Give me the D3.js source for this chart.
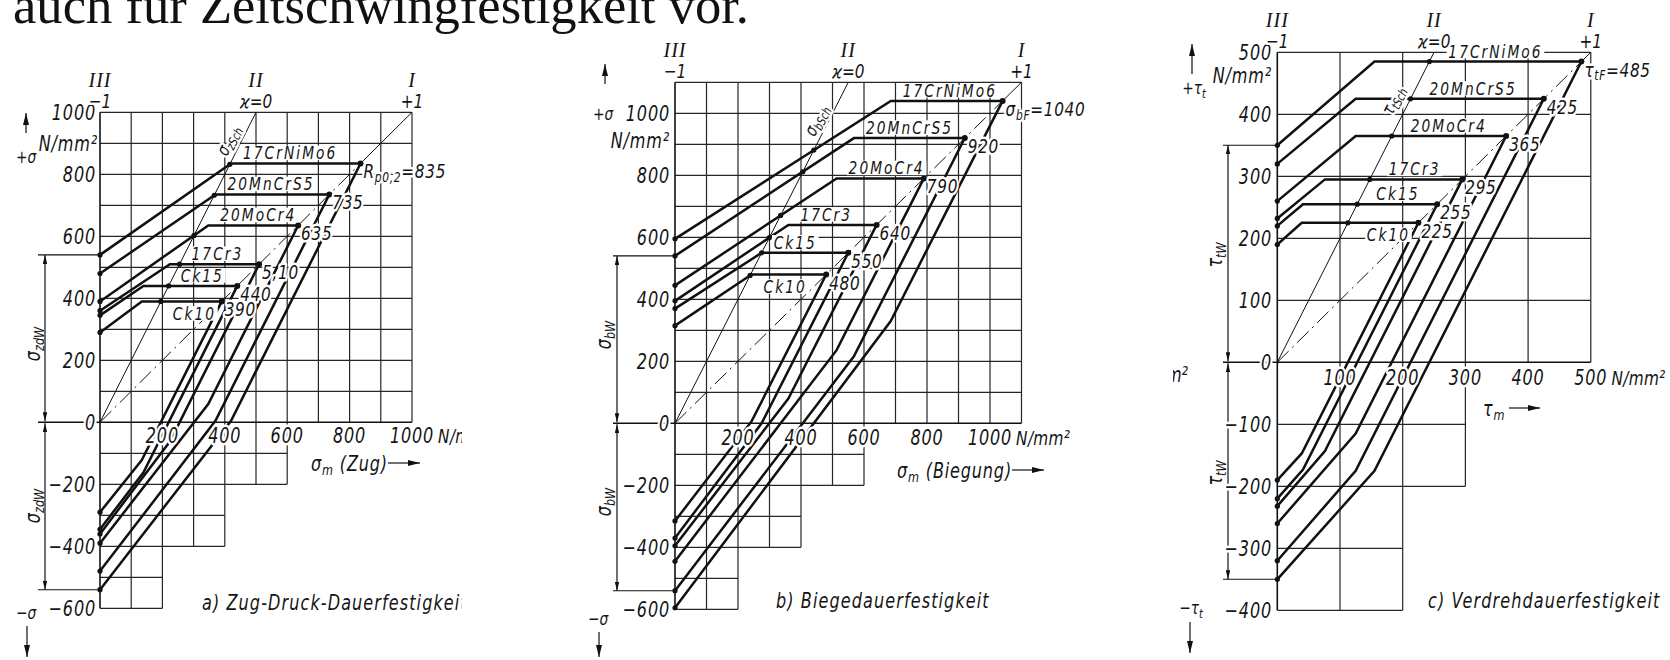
<!DOCTYPE html>
<html>
<head>
<meta charset="utf-8">
<script src="https://cdn.jsdelivr.net/npm/d3@7"></script>
<style>
  html, body { margin: 0; padding: 0; background: #fff; }
  svg { display: block; }
  .lt { font-family: "Liberation Sans Narrow", "DejaVu Sans Condensed", "Liberation Sans", sans-serif; font-style: italic; fill: #151515; }
  .rm { font-family: "Liberation Serif", "DejaVu Serif", serif; font-style: italic; fill: #151515; }
  .halo { paint-order: stroke; stroke: #fff; stroke-width: 5px; stroke-linejoin: round; }
</style>
</head>
<body>
<svg id="chart" width="1670" height="660"></svg>
<script>
// ---------------------------------------------------------------
// Dauerfestigkeitsschaubilder (Smith) for six case-hardening steels
// ---------------------------------------------------------------
const materials = ["17CrNiMo6", "20MnCrS5", "20MoCr4", "17Cr3", "Ck15", "Ck10"];

// a) Zug-Druck: fatigue limit σzdW, yield Rp0,2, mean stress at the knee, σu at the knee (N/mm²)
const zdFatigue  = [540, 480, 390, 360, 345, 290];
const zdYield    = [835, 735, 635, 510, 440, 390];
const zdKneeX    = [420, 370, 347, 224, 139, 134];
const zdLowKneeY = [5, 5, 59, -62, -162, -122];
const zdYieldText = ["835", "735", "635", "5,10", "440", "390"];

// b) Biegung: σbW, σbF, knee mean stress, σu at the knee
const bFatigue  = [595, 540, 445, 395, 370, 315];
const bYield    = [1040, 920, 790, 640, 550, 480];
const bKneeX    = [685, 568, 513, 360, 275, 243];
const bLowKneeY = [330, 216, 236, 80, 0, 6];
const bYieldText = ["1040", "920", "790", "640", "550", "480"];

// c) Verdrehung: τtW, τtF, knee mean stress, τu at the knee
const tFatigue  = [350, 320, 260, 232, 220, 190];
const tYield    = [485, 425, 365, 295, 255, 225];
const tKneeX    = [155, 125, 125, 76, 41, 39];
const tLowKneeY = [-175, -175, -115, -143, -173, -147];
const tYieldText = ["485", "425", "365", "295", "255", "225"];

// tick labels
const zdYTicks = [1000, 800, 600, 400, 200, 0, -200, -400, -600];
const zdXTicks = [200, 400, 600, 800, 1000];
const bYTicks  = [1000, 800, 600, 400, 200, 0, -200, -400, -600];
const bXTicks  = [200, 400, 600, 800, 1000];
const tYTicks  = [500, 400, 300, 200, 100, 0, -100, -200, -300, -400];
const tXTicks  = [100, 200, 300, 400, 500];

// stepped grid below the σm axis: [extent of σm, depth]
const zdSteps = [[600, -200], [400, -400], [200, -600]];
const bSteps  = [[600, -200], [400, -400], [200, -600]];
const tSteps  = [[300, -200], [200, -400]];

// ---------------------------------------------------------------
const svg = d3.select("#chart");
const defs = svg.append("defs");
const NARROW = 0.85;   // horizontal squeeze of the technical lettering

function marker(id, len, wid) {
  defs.append("marker").attr("id", id)
    .attr("viewBox", `0 0 ${len} ${wid}`).attr("refX", len).attr("refY", wid / 2)
    .attr("markerWidth", len).attr("markerHeight", wid)
    .attr("markerUnits", "userSpaceOnUse").attr("orient", "auto-start-reverse")
    .append("path").attr("d", `M0,0 L${len},${wid / 2} L0,${wid} Z`).attr("fill", "#111");
}
marker("ah", 12, 6);
marker("dim", 9, 4.5);

defs.append("clipPath").attr("id", "clipA").append("rect")
  .attr("x", 0).attr("y", 0).attr("width", 462).attr("height", 660);
defs.append("clipPath").attr("id", "clipRem").append("rect")
  .attr("x", 1173).attr("y", 350).attr("width", 20).attr("height", 40);

function rich(t, s, fs) {
  const re = /_\{([^}]*)\}/g;
  let last = 0, m, shift = 0;
  const push = (str, sub) => {
    const sp = t.append("tspan").text(str);
    if (sub) { sp.attr("font-size", fs * 0.7).attr("dy", fs * 0.3); shift = fs * 0.3; }
    else if (shift) { sp.attr("dy", -shift); shift = 0; }
  };
  while ((m = re.exec(s))) {
    if (m.index > last) push(s.slice(last, m.index), false);
    push(m[1], true);
    last = re.lastIndex;
  }
  if (last < s.length) push(s.slice(last), false);
}

// text placed at (x, y); sans lettering is squeezed horizontally
function addText(g, x, y, s, o = {}) {
  const fs = o.size || 21;
  const cls = o.cls || "lt";
  const sx = o.sx != null ? o.sx : (cls === "lt" ? NARROW : 1);
  const tf = `translate(${x},${y})` + (o.rotate != null ? ` rotate(${o.rotate})` : "") + ` scale(${sx},1)`;
  const t = g.append("text").attr("x", 0).attr("y", 0)
    .attr("class", cls + (o.halo ? " halo" : ""))
    .attr("font-size", fs)
    .attr("text-anchor", o.anchor || "start")
    .attr("dominant-baseline", "central")
    .attr("transform", tf);
  if (o.ls != null) t.attr("letter-spacing", o.ls);
  rich(t, s, fs);
  if (o.box) {
    // white lettering field that interrupts grid lines behind the label
    const bb = t.node().getBBox();
    g.insert("rect", () => t.node())
      .attr("x", bb.x - 2).attr("y", bb.y + 3.5)
      .attr("width", bb.width + 4).attr("height", Math.max(0, bb.height - 7))
      .attr("fill", "#fff").attr("transform", tf);
  }
  t.property("__sx", sx);
  return t;
}

function arrow(g, x1, y1, x2, y2, id, both) {
  const l = g.append("line").attr("x1", x1).attr("y1", y1).attr("x2", x2).attr("y2", y2)
    .attr("stroke", "#111").attr("stroke-width", 1.2).attr("marker-end", `url(#${id})`);
  if (both) l.attr("marker-start", `url(#${id})`);
}

function kappaZero(F, R, kx) {
  const k = (R - F) / kx;
  const xs = F / (2 - k);
  return xs <= kx ? [xs, 2 * xs] : [R / 2, R];
}

function drawPanel(c) {
  const g = svg.append("g");
  if (c.clip) g.attr("clip-path", `url(#${c.clip})`);
  const x = d3.scaleLinear().domain(c.xDomain).range(c.xRange);
  const y = d3.scaleLinear().domain(c.yDomain).range(c.yRange);
  const line = d3.line().x(d => x(d[0])).y(d => y(d[1]));
  const st = c.step, top = c.top, right = c.right, bottom = c.yDomain[0];

  // grid
  const gg = g.append("g").attr("fill", "none").attr("stroke", "#262626").attr("stroke-width", 1.2);
  d3.range(st, right + 1, st).forEach(v => gg.append("path").attr("d", line([[v, 0], [v, top]])));
  d3.range(st, top + 1, st).forEach(v => gg.append("path").attr("d", line([[0, v], [right, v]])));
  d3.range(st, c.steps[0][0] + 1, st).forEach(v => {
    const depth = d3.min(c.steps.filter(s => s[0] >= v), s => s[1]);
    gg.append("path").attr("d", line([[v, 0], [v, depth]]));
  });
  d3.range(-st, bottom - 1, -st).forEach(v => {
    const ext = d3.max(c.steps.filter(s => s[1] <= v), s => s[0]);
    gg.append("path").attr("d", line([[0, v], [ext, v]]));
  });

  // axes
  const ga = g.append("g").attr("fill", "none").attr("stroke", "#111").attr("stroke-width", 1.6);
  ga.append("path").attr("d", line([[0, bottom], [0, top]]));
  ga.append("path").attr("d", `M${c.dimLeft},${y(0)}H${x(right)}`);

  // dimension of the alternating strength
  const gd = g.append("g").attr("fill", "none").attr("stroke", "#111").attr("stroke-width", 1.1);
  gd.append("path").attr("d", `M${c.dimLeft},${y(c.dimVal)}H${x(0)}`);
  gd.append("path").attr("d", `M${c.dimLeft},${y(-c.dimVal)}H${x(0)}`);
  arrow(g, c.dimX, y(0) - 1, c.dimX, y(c.dimVal), "dim", true);
  arrow(g, c.dimX, y(0) + 1, c.dimX, y(-c.dimVal), "dim", true);

  // reference lines κ = 0 and κ = +1
  const maxY = d3.max(c.yieldPt);
  const gl = g.append("g").attr("fill", "none").attr("stroke", "#111").attr("stroke-width", 1);
  gl.append("path").attr("d", line([[0, 0], [top / 2, top]]));
  gl.append("path").attr("d", line([[0, 0], [maxY, maxY]])).attr("stroke-dasharray", "16,5,2,5");
  gl.append("path").attr("d", line([[maxY, maxY], [top, top]]));

  // Smith diagrams of the six steels
  const gc = g.append("g").attr("fill", "none").attr("stroke", "#111").attr("stroke-width", 2.5)
    .attr("stroke-linejoin", "miter");
  const gdot = g.append("g").attr("fill", "#111");
  materials.forEach((m, i) => {
    const F = c.fatigue[i], R = c.yieldPt[i], kx = c.kneeX[i], lk = c.lowKneeY[i];
    gc.append("path").attr("d", line([[0, F], [kx, R], [R, R], [kx, lk], [0, -F]]));
    const kz = kappaZero(F, R, kx);
    [[0, F], [0, -F]].forEach(p => gdot.append("circle").attr("cx", x(p[0])).attr("cy", y(p[1])).attr("r", 2.6));
    gdot.append("circle").attr("cx", x(kz[0])).attr("cy", y(kz[1])).attr("r", 2.6);
    gdot.append("circle").attr("cx", x(R)).attr("cy", y(R)).attr("r", 3);
  });

  // labels of the steels and their yield points
  const gt = g.append("g");
  materials.forEach((m, i) => {
    const F = c.fatigue[i], R = c.yieldPt[i], kx = c.kneeX[i];
    const kz = kappaZero(F, R, kx);
    const below = i === materials.length - 1;
    addText(gt, x(Math.max(kx, kz[0])) + c.nameDx, y(R) + (below ? 12 : -10.5), m, { size: 18, ls: 2.4, box: true });
    const lbl = i === 0 ? c.yieldSym + "=" + c.yieldText[i] : c.yieldText[i];
    addText(gt, x(R) + 3, y(R) + 7.5, lbl, { size: 20, ls: 0.8, halo: true });
  });

  // rotated label on the κ = 0 line
  {
    const v = c.schAt;
    const dx = x(top / 2) - x(0), dy = y(top) - y(0);
    const ang = Math.atan2(dy, dx) * 180 / Math.PI;
    addText(gt, x(v / 2) - c.schOff, y(v), c.schText, { size: 18, anchor: "middle", rotate: ang, halo: true });
  }

  // tick labels
  c.yTicks.forEach(v => addText(gt, c.yTickRight, y(v), String(v).replace("-", "\u2212"), { anchor: "end", ls: 1, halo: true }));
  c.xTicks.forEach((v, i) => {
    const t = addText(gt, x(v), c.xTickY, String(v), { anchor: "middle", ls: 1, halo: true });
    if (i === c.xTicks.length - 1) {
      const w = t.node().getComputedTextLength() * t.property("__sx");
      addText(gt, x(v) + w / 2 + 4, c.xTickY, "N/mm²", { size: 20, ls: 0.4, halo: true });
    }
  });

  // κ headers
  const hd = [[0, top, "III", "\u22121"], [top / 2, top, "II", "ϰ=0"], [top, top, "I", "+1"]];
  hd.forEach(h => {
    addText(gt, x(h[0]), y(h[1]) - 32, h[2], { cls: "rm", size: 20, anchor: "middle", ls: 1 });
    addText(gt, x(h[0]), y(h[1]) - 12, h[3], { size: 20, anchor: "middle", halo: true });
  });

  // ordinate decorations
  addText(gt, c.plus[0], c.plus[1], c.plusText, { size: 18, anchor: "middle" });
  arrow(g, c.plusArrow[0], c.plusArrow[1], c.plusArrow[0], c.plusArrow[2], "ah");
  addText(gt, c.unit[0], c.unit[1], "N/mm²", { anchor: "end", ls: 1 });
  addText(gt, c.minus[0], c.minus[1], c.minusText, { size: 18, anchor: "middle" });
  arrow(g, c.minusArrow[0], c.minusArrow[1], c.minusArrow[0], c.minusArrow[2], "ah");
  c.dimLabelY.forEach(yy => addText(gt, c.dimLabelX, yy, c.dimText, { size: 21, anchor: "middle", rotate: -90 }));

  // abscissa name and caption
  addText(gt, c.axisName[0], c.axisName[1], c.axisNameText, { ls: 1 });
  arrow(g, c.axisArrow[0], c.axisName[1], c.axisArrow[1], c.axisName[1], "ah");
  addText(gt, c.caption[0], c.caption[1], c.captionText, { ls: 1.3 });
}

drawPanel({
  clip: "clipA",
  xDomain: [0, 1000], xRange: [100, 412],
  yDomain: [-600, 1000], yRange: [608.3, 112.3],
  step: 100, top: 1000, right: 1000, steps: zdSteps,
  fatigue: zdFatigue, yieldPt: zdYield, kneeX: zdKneeX, lowKneeY: zdLowKneeY,
  yieldText: zdYieldText, yieldSym: "R_{p0,2}", nameDx: 12,
  dimLeft: 38, dimX: 45, dimVal: 540, dimLabelX: 32, dimLabelY: [344, 506], dimText: "σ_{zdW}",
  schAt: 910, schOff: 14, schText: "σ_{zSch}",
  yTicks: zdYTicks, xTicks: zdXTicks, yTickRight: 96, xTickY: 435,
  plus: [26, 157], plusText: "+σ", plusArrow: [26, 133, 113],
  unit: [98, 143],
  minus: [26, 613], minusText: "\u2212σ", minusArrow: [27, 626, 657],
  axisName: [311, 463], axisNameText: "σ_{m} (Zug)", axisArrow: [388, 420],
  caption: [202, 602], captionText: "a) Zug-Druck-Dauerfestigkeit"
});

drawPanel({
  xDomain: [0, 1100], xRange: [675, 1021.5],
  yDomain: [-600, 1100], yRange: [609.3, 82.3],
  step: 100, top: 1100, right: 1100, steps: bSteps,
  fatigue: bFatigue, yieldPt: bYield, kneeX: bKneeX, lowKneeY: bLowKneeY,
  yieldText: bYieldText, yieldSym: "σ_{bF}", nameDx: 12,
  dimLeft: 613, dimX: 617, dimVal: 540, dimLabelX: 603, dimLabelY: [335, 502], dimText: "σ_{bW}",
  schAt: 978, schOff: 13, schText: "σ_{bSch}",
  yTicks: bYTicks, xTicks: bXTicks, yTickRight: 670, xTickY: 437,
  plus: [603, 114], plusText: "+σ", plusArrow: [605, 84, 64],
  unit: [670, 140],
  minus: [598, 619], minusText: "\u2212σ", minusArrow: [599, 632, 657],
  axisName: [897, 470], axisNameText: "σ_{m} (Biegung)", axisArrow: [1012, 1044],
  caption: [776, 600], captionText: "b)  Biegedauerfestigkeit"
});

drawPanel({
  xDomain: [0, 500], xRange: [1277.3, 1590.8],
  yDomain: [-400, 500], yRange: [610.3, 52.3],
  step: 100, top: 500, right: 500, steps: tSteps,
  fatigue: tFatigue, yieldPt: tYield, kneeX: tKneeX, lowKneeY: tLowKneeY,
  yieldText: tYieldText, yieldSym: "τ_{tF}", nameDx: 19,
  dimLeft: 1223, dimX: 1228, dimVal: 350, dimLabelX: 1214, dimLabelY: [255, 473], dimText: "τ_{tW}",
  schAt: 423, schOff: 17, schText: "τ_{tSch}",
  yTicks: tYTicks, xTicks: tXTicks, yTickRight: 1272, xTickY: 377,
  plus: [1194, 88], plusText: "+τ_{t}", plusArrow: [1192, 74, 44],
  unit: [1272, 75],
  minus: [1191, 608], minusText: "\u2212τ_{t}", minusArrow: [1190, 622, 653],
  axisName: [1483, 408], axisNameText: "τ_{m}", axisArrow: [1509, 1540],
  caption: [1428, 600], captionText: "c) Verdrehdauerfestigkeit"
});

// cut-off unit at the left edge of panel c
addText(svg.append("g").attr("clip-path", "url(#clipRem)"), 1188, 374, "mm²", { anchor: "end" });

// running text above the diagrams
svg.append("text")
  .attr("x", 13).attr("y", 23)
  .attr("font-family", "Liberation Serif, 'Times New Roman', serif")
  .attr("font-size", 52).attr("fill", "#111")
  .attr("textLength", 736).attr("lengthAdjust", "spacingAndGlyphs")
  .text("auch für Zeitschwingfestigkeit vor.");
</script>
</body>
</html>
